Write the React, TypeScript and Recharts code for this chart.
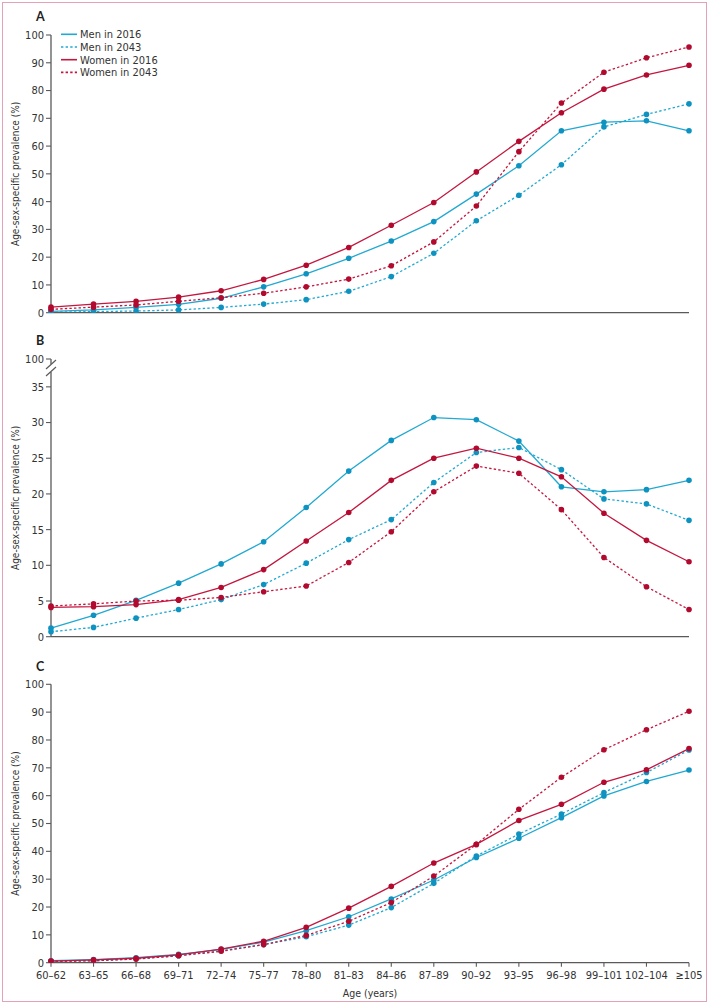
import React from "react";
import { LineChart, Line, XAxis, YAxis } from "recharts";

const categories = ["60–62","63–65","66–68","69–71","72–74","75–77","78–80","81–83","84–86","87–89","90–92","93–95","96–98","99–101","102–104","≥105"];

// Panel A
const menA2016 = [0.5,1.0,1.9,3.0,5.2,9.3,14.0,19.6,25.8,32.8,42.7,52.9,65.5,68.6,69.1,65.5];
const menA2043 = [0.2,0.4,0.6,1.0,1.9,3.1,4.7,7.7,13.0,21.4,33.1,42.3,53.3,66.9,71.4,75.2];
const womenA2016 = [2.0,3.1,4.1,5.6,7.9,12.0,17.1,23.5,31.5,39.7,50.7,61.7,72.0,80.5,85.6,89.1];
const womenA2043 = [1.2,2.0,2.8,4.1,5.4,7.0,9.3,12.1,16.9,25.5,38.4,58.0,75.5,86.6,91.8,95.7];

// Panel B
const menB2016 = [1.2,3.0,5.1,7.5,10.2,13.3,18.1,23.2,27.5,30.7,30.4,27.4,21.0,20.3,20.6,21.9];
const menB2043 = [0.7,1.3,2.6,3.8,5.2,7.3,10.3,13.6,16.4,21.6,25.8,26.5,23.4,19.3,18.6,16.3];
const womenB2016 = [4.1,4.2,4.5,5.2,6.9,9.4,13.4,17.4,21.9,25.0,26.4,25.0,22.4,17.3,13.5,10.5];
const womenB2043 = [4.3,4.6,5.0,5.1,5.5,6.3,7.1,10.4,14.7,20.3,23.9,22.9,17.8,11.1,7.0,3.8];

// Panel C
const menC2016 = [0.7,1.1,1.8,3.0,4.8,7.4,11.5,16.5,22.9,29.7,37.8,44.7,52.1,59.9,65.1,69.2];
const menC2043 = [0.4,0.7,1.4,2.5,4.3,6.5,9.3,13.5,19.8,28.5,38.3,46.2,53.4,61.1,68.3,76.4];
const womenC2016 = [0.6,1.0,1.6,2.8,4.9,7.7,12.7,19.6,27.4,35.8,42.5,51.1,56.9,64.8,69.3,76.9];
const womenC2043 = [0.5,0.7,1.3,2.5,4.1,6.5,9.8,14.9,21.6,31.1,42.5,55.1,66.6,76.5,83.7,90.3];

const ticksFull = [0,10,20,30,40,50,60,70,80,90,100];
const ticksB = [0,5,10,15,20,25,30,35];
const breakTopB = 38.9; // position of the "100" tick above the axis break
const breakLabelB = "100";

const seriesNames = ["Men in 2016","Men in 2043","Women in 2016","Women in 2043"];
const BLUE_LINE = "#22a9d2";
const BLUE_DOT = "#0e93c1";
const RED_LINE = "#c4173f";
const RED_DOT = "#b20a2f";
const seriesStyle = [
  { key: "m16", line: BLUE_LINE, dot: BLUE_DOT, dash: undefined },
  { key: "m43", line: BLUE_LINE, dot: BLUE_DOT, dash: "2.4 2.2" },
  { key: "w16", line: RED_LINE, dot: RED_DOT, dash: undefined },
  { key: "w43", line: RED_LINE, dot: RED_DOT, dash: "2.4 2.2" },
];

const FONT = "'Liberation Sans Narrow', 'DejaVu Sans Condensed', Lato, sans-serif";
const AXIS = "#5a5a5a";
const TEXT = "#333";

function build(m16: number[], m43: number[], w16: number[], w43: number[]) {
  return categories.map((c, i) => ({ cat: c, m16: m16[i], m43: m43[i], w16: w16[i], w43: w43[i] }));
}

type PanelProps = {
  data: any[];
  top: number;
  height: number;
  marginTop: number;
  xHeight: number;
  domain: [number, number];
  ticks: number[];
  fmt?: (v: number) => string;
  showX: boolean;
};

function Panel({ data, top, height, marginTop, xHeight, domain, ticks, fmt, showX }: PanelProps) {
  return (
    <div style={{ position: "absolute", left: 0, top, width: 710, height }}>
      <LineChart width={710} height={height} data={data} margin={{ top: marginTop, right: 21, left: 0, bottom: 0 }}>
        <XAxis
          dataKey="cat"
          height={xHeight}
          interval={0}
          tickSize={4}
          tickMargin={4}
          stroke={AXIS}
          tick={showX ? { fill: TEXT, fontSize: 11, fontFamily: FONT } : false}
          axisLine={{ stroke: AXIS, strokeWidth: 1.3 }}
          tickLine={{ stroke: AXIS, strokeWidth: 1.1 }}
          label={showX ? { value: "Age (years)", position: "insideBottom", offset: 8, fill: TEXT, fontSize: 10.5, fontFamily: FONT } : undefined}
        />
        <YAxis
          width={51}
          type="number"
          domain={domain}
          ticks={ticks}
          allowDataOverflow
          tickFormatter={fmt}
          tickSize={5}
          tickMargin={2}
          tick={{ fill: TEXT, fontSize: 11, fontFamily: FONT }}
          axisLine={{ stroke: AXIS, strokeWidth: 1.3 }}
          tickLine={{ stroke: AXIS, strokeWidth: 1.1 }}
          label={{ value: "Age-sex-specific prevalence (%)", angle: -90, position: "insideLeft", offset: 15, fill: TEXT, fontSize: 10, fontFamily: FONT, style: { textAnchor: "middle" } }}
        />
        {seriesStyle.map((s, i) => (
          <Line
            key={s.key}
            name={seriesNames[i]}
            dataKey={s.key}
            type="linear"
            stroke={s.line}
            strokeWidth={1.3}
            strokeDasharray={s.dash}
            dot={{ r: 2.8, fill: s.dot, stroke: s.dot, strokeWidth: 0, strokeDasharray: "0" }}
            activeDot={false}
            isAnimationActive={false}
          />
        ))}
      </LineChart>
    </div>
  );
}

function LegendBox() {
  return (
    <svg style={{ position: "absolute", left: 55, top: 27 }} width={140} height={54}>
      {seriesStyle.map((s, i) => (
        <g key={s.key} transform={`translate(0, ${7.3 + i * 12.7})`}>
          <line x1={6} x2={22} y1={0} y2={0} stroke={s.line} strokeWidth={1.6} strokeDasharray={s.dash} />
          <text x={25} y={0} dy="0.35em" fontSize={11} fill={TEXT} fontFamily={FONT}>{seriesNames[i]}</text>
        </g>
      ))}
    </svg>
  );
}

function PanelLetter({ letter, y }: { letter: string; y: number }) {
  return (
    <div style={{ position: "absolute", left: 36, top: y, fontFamily: "Lato, sans-serif", fontWeight: 700, fontSize: 12.5, color: "#222", lineHeight: "13px" }}>{letter}</div>
  );
}

export default function App() {
  const dataA = build(menA2016, menA2043, womenA2016, womenA2043);
  const dataB = build(menB2016, menB2043, womenB2016, womenB2043);
  const dataC = build(menC2016, menC2043, womenC2016, womenC2043);
  return (
    <div style={{ position: "absolute", left: 0, top: 0, width: 710, height: 1005, background: "#fff", fontFamily: FONT }}>
      <div style={{ position: "absolute", left: 2, top: 2, width: 705, height: 1000, border: "1.5px solid #e4a2b6", boxSizing: "border-box" }} />
      <Panel data={dataA} top={0} height={330} marginTop={35} xHeight={17.3} domain={[0, 100]} ticks={ticksFull} showX={false} />
      <Panel
        data={dataB}
        top={330}
        height={320}
        marginTop={29}
        xHeight={13.3}
        domain={[0, breakTopB]}
        ticks={[...ticksB, breakTopB]}
        fmt={(v: number) => (v === breakTopB ? breakLabelB : String(v))}
        showX={false}
      />
      <Panel data={dataC} top={650} height={355} marginTop={34.3} xHeight={42.3} domain={[0, 100]} ticks={ticksFull} showX={true} />
      <LegendBox />
      <svg style={{ position: "absolute", left: 40, top: 355, pointerEvents: "none" }} width={24} height={30}>
        <rect x={8} y={9} width={6} height={8} fill="#fff" />
        <line x1={6} y1={14} x2={16} y2={5} stroke={AXIS} strokeWidth={1.2} />
        <line x1={6} y1={21} x2={16} y2={12} stroke={AXIS} strokeWidth={1.2} />
      </svg>
      <PanelLetter letter="A" y={10} />
      <PanelLetter letter="B" y={334} />
      <PanelLetter letter="C" y={660} />
    </div>
  );
}
